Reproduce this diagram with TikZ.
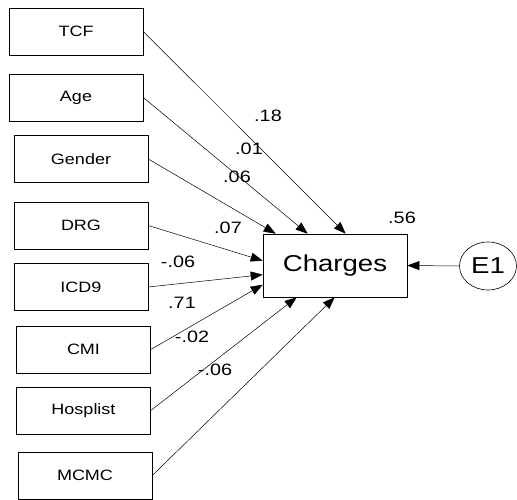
\documentclass[tikz,border=0pt]{standalone}
\usepackage{fontspec}
\setmainfont{Liberation Sans}[FakeStretch=1.2]
\usetikzlibrary{positioning}
\usetikzlibrary{arrows.meta}
\usetikzlibrary{shapes.geometric}

\tikzset{
  obsvar/.style={draw, line width=0.6pt, minimum width=134pt, minimum height=47pt,
    font=\fontsize{15}{17}\selectfont},
  coef/.style={inner sep=0pt, font=\fontsize{16.5}{18}\selectfont},
  regarrow/.style={-{Triangle[length=12pt,width=9pt]}, line width=0.5pt}
}

\begin{document}
\begin{tikzpicture}[x=1pt,y=-1pt]
\useasboundingbox (0,0) rectangle (517,500);
 % Observed predictors
 \node[obsvar] (tcf) at (76,31.5) {TCF};
 \node[obsvar] (age) at (76,97.5) {Age};
 \node[obsvar] (gender) at (81,159) {Gender};
 \node[obsvar] (drg) at (81,225.5) {DRG};
 \node[obsvar] (icd) at (81,287) {ICD9};
 \node[obsvar] (cmi) at (83.5,349.5) {CMI};
 \node[obsvar] (hosp) at (83.5,410.5) {Hosplist};
 \node[obsvar] (mcmc) at (85,475.5) {MCMC};

% Outcome
\node [draw, line width=0.6pt,
    minimum width=144pt,
    minimum height=63pt,
    font=\fontsize{23}{25}\selectfont
] (charges) at (335,265.5) {Charges};

% Error term
\node [draw, ellipse, line width=0.6pt,
    minimum width=57pt,
    minimum height=48pt,
    inner sep=0pt,
    font=\fontsize{23}{25}\selectfont
] (err) at (488,266) {E1};

% Regression paths
\draw[regarrow] (tcf.east) -- ([xshift=83]charges.north west);
\draw[regarrow] (age.east) -- ([xshift=45]charges.north west);
\draw[regarrow] (gender.east) -- ([xshift=13]charges.north west);
\draw[regarrow] (drg.east) -- ([yshift=-27]charges.north west);
\draw[regarrow] (icd.east) -- ([yshift=-41]charges.north west);
\draw[regarrow] (cmi.east) -- ([yshift=-51]charges.north west);
\draw[regarrow] (hosp.east) -- ([xshift=34]charges.south west);
\draw[regarrow] (mcmc.east) -- ([xshift=72]charges.south west);
\draw[regarrow] (err.west) -- (charges.east);

% Coefficients
\node[coef] (ctcf) at (268,116) {.18};
\node[coef] (cage) at (249,149) {.01};
\node[coef] (cgender) at (237,177) {.06};
\node[coef] (cdrg) at (228,228) {.07};
\node[coef] (cicd) at (178,262) {-.06};
\node[coef] (ccmi) at (182,303) {.71};
\node[coef] (chosp) at (192,337) {-.02};
\node[coef] (cmcmc) at (215,370) {-.06};
\node[coef] (rsq) at (402,218) {.56};

\end{tikzpicture}
\end{document}
